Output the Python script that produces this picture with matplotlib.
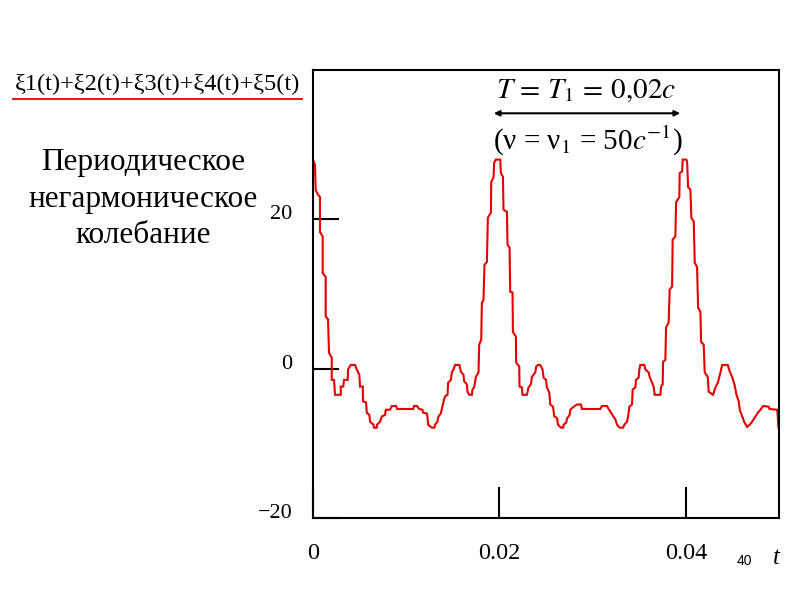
import numpy as np
import matplotlib
matplotlib.use("Agg")
import matplotlib.pyplot as plt
from matplotlib.lines import Line2D

# ---- data (t in ms, xi in arbitrary units) ----
t_ms = [0.00, 0.21, 0.29, 0.54, 0.75, 0.75, 1.04, 1.04, 1.36, 1.36, 1.61, 1.72, 2.01, 2.01, 2.26, 2.36,
        2.98, 2.98, 3.25, 3.33, 3.73, 3.76, 4.05, 4.51, 4.69, 4.97, 5.05, 5.34, 5.37, 5.69, 5.77, 6.05,
        6.12, 6.48, 6.55, 6.84, 6.87, 7.20, 7.38, 7.73, 7.81, 8.27, 8.45, 8.92, 9.02, 10.74, 10.85, 11.17,
        11.39, 11.74, 11.82, 12.21, 12.28, 12.35, 12.75, 13.03, 13.10, 13.35, 13.46, 13.72, 13.82, 14.07,
        14.18, 14.43, 14.50, 14.79, 14.90, 15.07, 15.25, 15.71, 15.86, 16.14, 16.22, 16.51, 16.58, 16.76,
        17.05, 17.11, 17.29, 17.48, 17.76, 17.83, 18.05, 18.12, 18.29, 18.40, 18.66, 18.76, 19.09, 19.12,
        19.37, 19.44, 19.62, 20.09, 20.16, 20.38, 20.44, 20.81, 20.87, 21.09, 21.16, 21.41, 21.45, 21.77,
        21.80, 22.13, 22.16, 22.42, 22.48, 22.95, 23.13, 23.38, 23.49, 23.85, 23.95, 24.14, 24.38, 24.63,
        24.74, 25.00, 25.10, 25.35, 25.46, 25.75, 25.89, 26.18, 26.28, 26.61, 26.85, 26.89, 27.18, 27.25,
        27.53, 27.61, 27.96, 28.32, 28.75, 28.86, 30.83, 31.01, 31.55, 31.72, 31.98, 32.22, 32.44, 32.62,
        32.90, 33.27, 33.41, 33.70, 33.87, 33.94, 34.23, 34.30, 34.59, 34.66, 34.94, 35.02, 35.12, 35.55,
        35.66, 36.01, 36.12, 36.38, 36.55, 36.66, 37.27, 37.35, 37.52, 37.56, 37.81, 37.88, 38.16, 38.27,
        38.53, 38.59, 38.88, 38.96, 39.31, 39.34, 39.60, 39.67, 40.06, 40.14, 40.25, 40.49, 40.60, 40.85,
        40.96, 41.21, 41.32, 41.57, 41.64, 41.92, 42.03, 42.35, 42.46, 42.93, 43.18, 43.43, 43.72, 43.90,
        44.50, 44.72, 44.97, 45.22, 45.44, 45.68, 45.79, 46.05, 46.29, 46.58, 46.86, 47.12, 47.47, 47.73,
        48.01, 48.30, 48.90, 48.98, 49.81, 49.95]
xi = [27.96, 27.3, 23.9, 23.3, 23.0, 18.3, 17.7, 12.8, 12.3, 7.0, 6.6, 2.1, 1.5, -1.5, -1.5, -3.5,
      -3.5, -2.4, -2.4, -1.5, -1.5, -0.1, 0.5, 0.5, -0.1, -0.8, -2.4, -2.4, -4.4, -4.5, -5.9, -6.2,
      -7.1, -7.5, -7.9, -7.9, -7.5, -7.1, -6.4, -6.2, -5.5, -5.5, -5.0, -5.0, -5.4, -5.4, -5.0, -5.0,
      -5.4, -5.5, -5.9, -6.0, -6.4, -7.5, -7.9, -7.9, -7.5, -7.1, -6.4, -6.0, -5.4, -4.1,
      -3.7, -3.5, -1.9, -1.5, -0.5, -0.1, 0.5, 0.5, -0.4, -0.8, -1.7, -2.1, -3.1, -3.5,
      -3.5, -2.8, -2.5, -1.1, -0.5, 3.2, 3.9, 8.8, 9.2, 13.9, 14.3, 20.2, 20.9, 25.0,
      25.6, 27.6, 28.0, 28.0, 26.2, 25.7, 21.3, 21.0, 16.6, 16.2, 10.3, 10.2, 4.9, 4.3,
      0.8, 0.3, -2.4, -2.5, -3.5, -3.5, -2.5, -2.1, -1.1, -0.5, 0.3, 0.5, 0.5, -0.1,
      -1.2, -1.5, -2.5, -3.2, -4.8, -5.1, -6.4, -6.6, -7.5, -7.9, -7.9, -7.5, -7.2, -6.7,
      -6.2, -5.5, -5.1, -4.8, -4.8, -5.4, -5.4, -5.0, -5.0, -5.4, -5.9, -6.4, -6.8, -7.5,
      -7.9, -7.9, -7.5, -7.1, -5.9, -5.1, -4.8, -2.8, -2.5, -1.5, -1.2, -0.1, 0.5, 0.5,
      -0.1, -0.5, -1.1, -1.9, -2.4, -3.5, -3.5, -2.4, -2.1, 0.9, 1.2, 5.5, 6.2, 10.6,
      11.0, 17.3, 17.7, 22.3, 23.0, 26.2, 26.4, 28.0, 28.0, 27.7, 24.3, 24.0, 20.2, 19.7,
      14.2, 13.6, 8.2, 7.6, 3.6, 3.2, -0.5, -1.1, -3.1, -3.5, -2.5, -1.9, -0.5, 0.5,
      0.5, -0.4, -1.1, -2.1, -3.5, -4.4, -5.5, -6.4, -7.2, -7.8, -7.5, -7.1, -6.4, -5.9,
      -5.5, -5.0, -5.1, -5.4, -5.5, -7.9]

x_ticks = [0, 0.02, 0.04]
x_tick_labels = ["0", "0.02", "0.04"]
y_ticks = [-20, 0, 20]
y_tick_labels = ["\u221220", "0", "20"]

t = np.array(t_ms) * 1e-3

SERIF = ["Liberation Serif", "DejaVu Serif"]
plt.rcParams["font.family"] = SERIF
plt.rcParams["mathtext.fontset"] = "stix"

fig = plt.figure(figsize=(8, 6), dpi=100)
W, H = 800.0, 600.0
ax = fig.add_axes([313 / W, 1 - 518 / H, 466 / W, 448 / H])

ax.plot(t, xi, color="#e60000", lw=1.5, solid_joinstyle="miter")
ax.set_xlim(0, 0.05)
ax.set_ylim(-20, 40)

for s in ax.spines.values():
    s.set_linewidth(1.5)
    s.set_color("black")

ax.set_xticks(x_ticks)
ax.set_xticklabels(x_tick_labels)
ax.set_yticks(y_ticks)
ax.set_yticklabels(y_tick_labels)
ax.tick_params(axis="y", direction="in", length=19, width=1.5, pad=15, labelsize=16)
ax.tick_params(axis="x", direction="in", length=22, width=1.5, pad=18, labelsize=17.5)
for lab in ax.get_yticklabels():
    lab.set_verticalalignment("baseline")

# annotation: period arrow and formulas
ax.annotate("", xy=(0.0194, 34.2), xytext=(0.0394, 34.2),
            arrowprops=dict(arrowstyle="<|-|>", color="black", lw=1.5,
                            mutation_scale=8, shrinkA=0, shrinkB=0))
ax.text(0.0293, 37.2, r"$T\,=\,T_1\,=\,0{,}02c$", ha="center", va="center", fontsize=21)
ax.text(0.0295, 30.5, r"(ν = ν$_1$ = 50$c^{-1}$)", ha="center",
        va="center", fontsize=21)

# left-side texts
fig.text(15 / W, 1 - 84 / H, "\u03be1(t)+\u03be2(t)+\u03be3(t)+\u03be4(t)+\u03be5(t)",
         fontsize=17.5, ha="left", va="center")
fig.add_artist(Line2D([13 / W, 302 / W], [1 - 99 / H, 1 - 99 / H], color="#e60000", lw=1.3))
fig.text(143 / W, 1 - 199 / H, "Периодическое\nнегармоническое\nколебание",
         fontsize=22.5, ha="center", va="center", linespacing=1.33)

# axis name and page number
fig.text(776 / W, 1 - 558 / H, "t", fontsize=18, style="italic", ha="center", va="center")
fig.text(744 / W, 1 - 561 / H, "40", fontsize=10, ha="center", va="center",
         family=["Liberation Sans", "DejaVu Sans"])

fig.savefig("out.png", dpi=100)
